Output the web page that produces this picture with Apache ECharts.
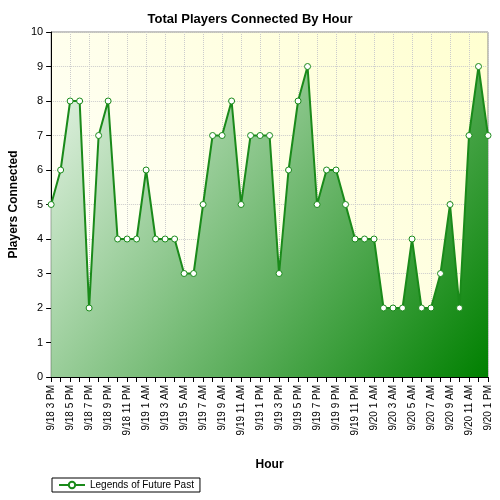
<!DOCTYPE html>
<html>
<head>
<meta charset="utf-8">
<script src="https://cdn.jsdelivr.net/npm/echarts@6/dist/echarts.min.js"></script>
<style>html,body{margin:0;padding:0;background:#fff}#c{width:500px;height:500px}</style>
</head>
<body>
<div id="c"></div>
<script>
// hourly labels, 9/18 3 PM .. 9/20 1 PM
var hours = []
;(function () {
  var day = 18, h = 15
  for (var i = 0; i < 47; i++) {
    var hh = h % 12 === 0 ? 12 : h % 12
    hours.push('9/' + day + ' ' + hh + (h < 12 ? ' AM' : ' PM'))
    h++
    if (h === 24) { h = 0; day++ }
  }
})()
var players = [5, 6, 8, 8, 2, 7, 8, 4, 4, 4, 6, 4, 4, 4, 3, 3, 5, 7, 7, 8, 5, 7, 7, 7, 3, 6, 8, 9, 5, 6,
  6, 5, 4, 4, 4, 2, 2, 2, 4, 2, 2, 3, 5, 2, 7, 9, 7]

var chart = echarts.init(document.getElementById('c'))
chart.setOption({
  animation: false,
  title: { text: 'Total Players Connected By Hour', left: 'center', top: 8,
    textStyle: { fontFamily: 'Liberation Sans', fontSize: 13, fontWeight: 'bold', color: '#000' } },
  grid: { left: 50, right: 12, top: 32, bottom: 123, show: true, borderColor: '#888',
    backgroundColor: new echarts.graphic.LinearGradient(1, 0, 0, 1, [
      { offset: 0, color: '#ffffd0' }, { offset: 1, color: '#ffffff' }]) },
  legend: { left: 52, bottom: 8, itemWidth: 26, itemHeight: 8, borderColor: '#000', borderWidth: 1,
    padding: [2, 6], textStyle: { fontFamily: 'Liberation Sans', fontSize: 10, color: '#000' } },
  xAxis: { type: 'category', data: hours, boundaryGap: false, name: 'Hour', nameLocation: 'middle', nameGap: 82,
    nameTextStyle: { fontFamily: 'Liberation Sans', fontWeight: 'bold', fontSize: 12, color: '#000' },
    axisLine: { lineStyle: { color: '#000' } }, axisTick: { interval: 0, lineStyle: { color: '#000' } },
    axisLabel: { interval: 1, rotate: 90, fontFamily: 'Liberation Sans', fontSize: 10, color: '#000' },
    splitLine: { show: true, interval: 1, lineStyle: { color: '#ccc', type: 'dotted' } } },
  yAxis: { type: 'value', min: 0, max: 10, interval: 1, name: 'Players Connected', nameLocation: 'middle', nameGap: 30,
    nameTextStyle: { fontFamily: 'Liberation Sans', fontWeight: 'bold', fontSize: 12, color: '#000' },
    axisLine: { show: true, lineStyle: { color: '#000' } }, axisTick: { show: true },
    axisLabel: { fontFamily: 'Liberation Sans', fontSize: 11, color: '#000' },
    splitLine: { lineStyle: { color: '#ccc', type: 'dotted' } } },
  series: [{
    name: 'Legends of Future Past', type: 'line', data: players,
    symbol: 'circle', symbolSize: 6,
    itemStyle: { color: '#fff', borderColor: '#1a8a1a', borderWidth: 1 },
    lineStyle: { color: '#1a8a1a', width: 2 },
    areaStyle: { opacity: 1, color: new echarts.graphic.LinearGradient(0, 0, 1, 1, [
      { offset: 0, color: '#e8f5e8' }, { offset: 1, color: '#008000' }]) }
  }]
})
</script>
</body>
</html>
